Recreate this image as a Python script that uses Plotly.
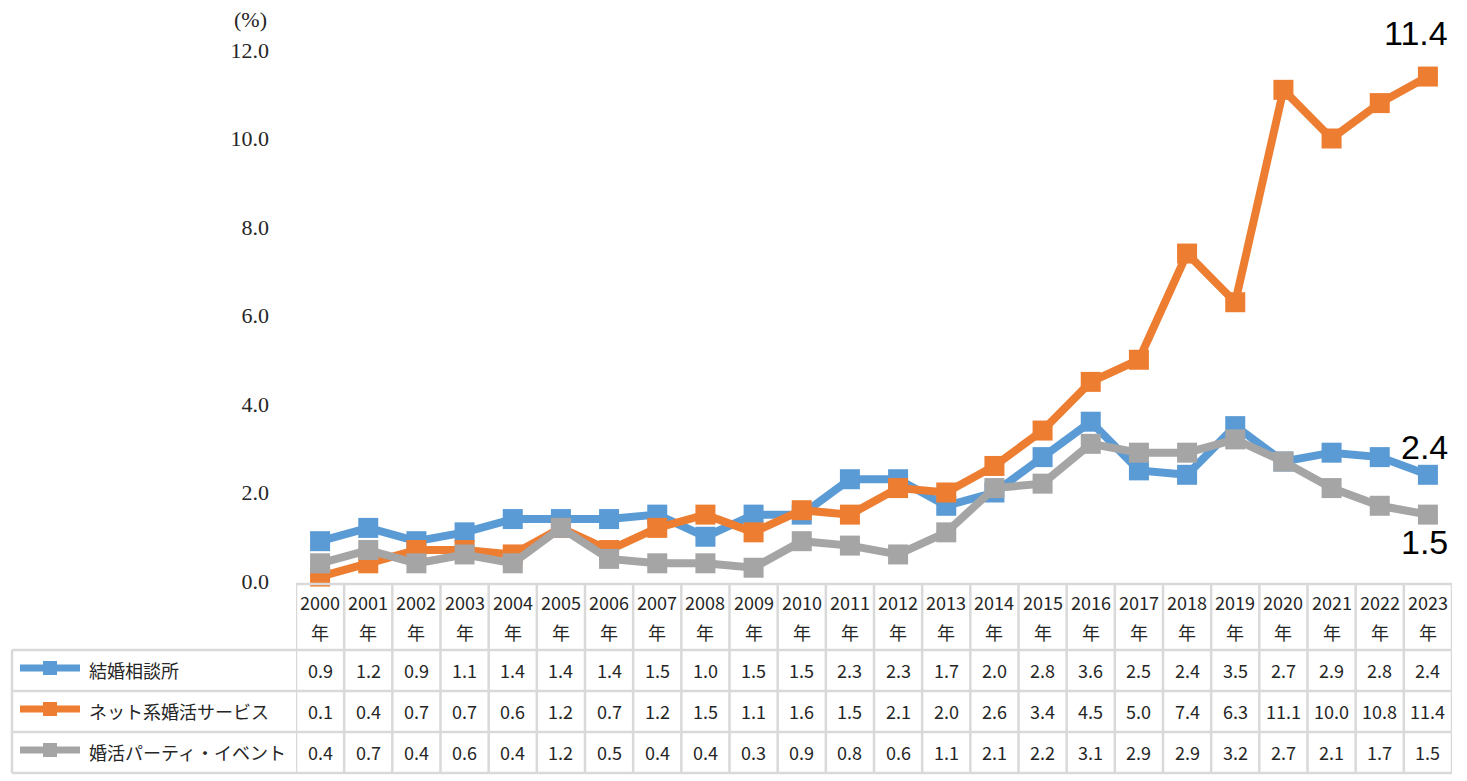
import plotly.graph_objects as go

# ---------------- data ----------------
years = [str(y) for y in range(2000, 2024)]
series_names = ["結婚相談所", "ネット系婚活サービス", "婚活パーティ・イベント"]
agency = [0.9, 1.2, 0.9, 1.1, 1.4, 1.4, 1.4, 1.5, 1.0, 1.5, 1.5, 2.3, 2.3, 1.7,
          2.0, 2.8, 3.6, 2.5, 2.4, 3.5, 2.7, 2.9, 2.8, 2.4]
online = [0.1, 0.4, 0.7, 0.7, 0.6, 1.2, 0.7, 1.2, 1.5, 1.1, 1.6, 1.5, 2.1, 2.0,
          2.6, 3.4, 4.5, 5.0, 7.4, 6.3, 11.1, 10.0, 10.8, 11.4]
party = [0.4, 0.7, 0.4, 0.6, 0.4, 1.2, 0.5, 0.4, 0.4, 0.3, 0.9, 0.8, 0.6, 1.1,
         2.1, 2.2, 3.1, 2.9, 2.9, 3.2, 2.7, 2.1, 1.7, 1.5]
y_ticks = [0, 2, 4, 6, 8, 10, 12]
series_values = [agency, online, party]
colors = ["#5B9BD5", "#ED7D31", "#A5A5A5"]

# ---------------- geometry (page has 8px body margin) ----------------
W, H = 1451, 770
ML, MR, MT, MB = 288, 7, 42, 197
PW, PH = W - ML - MR, H - MT - MB
idx = list(range(len(years)))


def px(p):
    return (p - 8 - ML) / PW


def py(p):
    return (H - MB - (p - 8)) / PH


fig = go.Figure()
for name, vals, col in zip(series_names, series_values, colors):
    fig.add_trace(go.Scatter(
        x=idx, y=vals, name=name, mode="lines+markers",
        line=dict(color=col, width=8),
        marker=dict(symbol="square", size=20, color=col),
        cliponaxis=False, showlegend=False,
    ))

grid = "#D9D9D9"
shapes = []
shapes.append(dict(type="line", xref="paper", yref="paper",
                   x0=px(296), x1=px(1452), y0=py(584), y1=py(584),
                   line=dict(color=grid, width=2.5)))
for yy in [650, 691, 732, 773]:
    shapes.append(dict(type="line", xref="paper", yref="paper",
                       x0=px(12), x1=px(1452), y0=py(yy), y1=py(yy),
                       line=dict(color=grid, width=2.5)))
shapes.append(dict(type="line", xref="paper", yref="paper",
                   x0=px(12), x1=px(12), y0=py(650), y1=py(773),
                   line=dict(color=grid, width=2.5)))
for i in range(len(years) + 1):
    shapes.append(dict(type="line", xref="x", yref="paper",
                       x0=i - 0.5, x1=i - 0.5, y0=py(584), y1=py(773),
                       line=dict(color=grid, width=2.5)))

annotations = []
tfont = dict(family="Noto Sans CJK JP", size=18, color="#262626")
for i, yr in zip(idx, years):
    annotations.append(dict(x=i, y=py(602), xref="x", yref="paper", text=yr,
                            showarrow=False, font=tfont, xanchor="center", yanchor="middle"))
    annotations.append(dict(x=i, y=py(632), xref="x", yref="paper", text="年",
                            showarrow=False, font=tfont, xanchor="center", yanchor="middle"))

row_y = [670, 711, 752]
for name, vals, col, ry in zip(series_names, series_values, colors, row_y):
    for i, v in zip(idx, vals):
        annotations.append(dict(x=i, y=py(ry), xref="x", yref="paper", text=f"{v:.1f}",
                                showarrow=False, font=tfont, xanchor="center", yanchor="middle"))
    shapes.append(dict(type="line", xref="paper", yref="paper",
                       x0=px(20), x1=px(80), y0=py(ry - 2), y1=py(ry - 2),
                       line=dict(color=col, width=7)))
    shapes.append(dict(type="rect", xref="paper", yref="paper",
                       x0=px(43), x1=px(57), y0=py(ry - 9), y1=py(ry + 5),
                       line=dict(width=0), fillcolor=col))
    annotations.append(dict(x=px(87), y=py(ry), xref="paper", yref="paper", text=name,
                            showarrow=False, font=tfont, xanchor="left", yanchor="middle"))

annotations.append(dict(x=px(250), y=py(19), xref="paper", yref="paper", text="(%)",
                        showarrow=False, font=dict(family="Liberation Serif", size=22, color="#262626"),
                        xanchor="center", yanchor="middle"))

last = idx[-1]
efont = dict(family="Liberation Sans", size=34, color="#000000")
annotations.append(dict(x=last, y=online[-1], xref="x", yref="y", text=f"{online[-1]:.1f}",
                        showarrow=False, font=efont, xanchor="center", yanchor="middle",
                        yshift=44, xshift=-12))
annotations.append(dict(x=last, y=agency[-1], xref="x", yref="y", text=f"{agency[-1]:.1f}",
                        showarrow=False, font=efont, xanchor="center", yanchor="middle",
                        yshift=28, xshift=-3))
annotations.append(dict(x=last, y=party[-1], xref="x", yref="y", text=f"{party[-1]:.1f}",
                        showarrow=False, font=efont, xanchor="center", yanchor="middle",
                        yshift=-27, xshift=-3))

fig.update_layout(
    width=W, height=H,
    margin=dict(l=ML, r=MR, t=MT, b=MB),
    paper_bgcolor="white", plot_bgcolor="white",
    shapes=shapes, annotations=annotations,
    showlegend=False,
)
fig.update_xaxes(range=[-0.5, len(years) - 0.5], showticklabels=False,
                 showgrid=False, zeroline=False, showline=False, ticks="")
fig.update_yaxes(range=[0, 12], tickvals=y_ticks, tickformat=".1f", showgrid=False,
                 zeroline=False, showline=False, ticks="", ticklabelstandoff=26,
                 tickfont=dict(family="Liberation Serif", size=22, color="#262626"))

fig.write_html("out.html")
